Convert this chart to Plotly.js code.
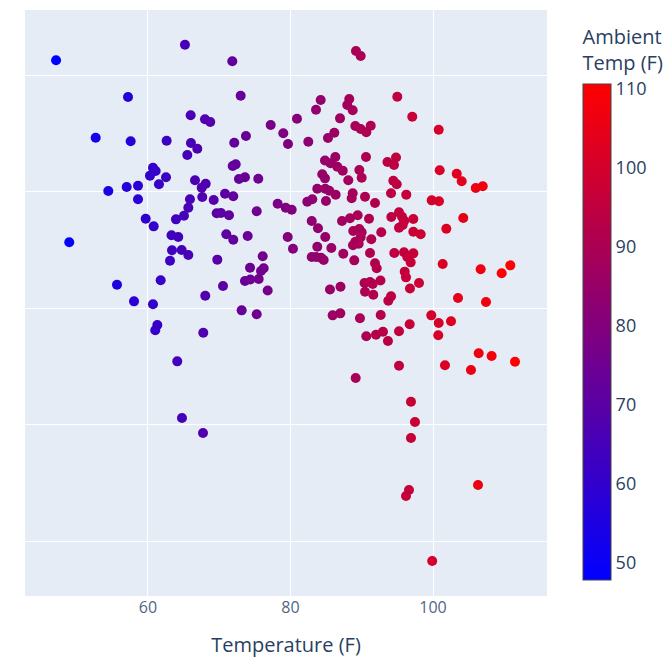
<!DOCTYPE html>
<html>
<head>
<meta charset="utf-8">
<script src="https://cdn.plot.ly/plotly-3.0.1.min.js"></script>
<style>html,body{margin:0;padding:0;background:#fff;}#chart{width:666px;height:658px;}</style>
</head>
<body>
<div id="chart"></div>
<script>
// Temperature (F) – x values (also drive the colour scale)
const temperature = [
47.1,57.2,52.66,57.57,62.62,60.70,61.08,60.28,62.53,61.54,58.60,57.01,54.43,58.60,59.68,60.80,63.93,63.30,63.37,63.09,
61.78,55.65,48.95,58.04,60.70,61.31,61.02,64.11,64.77,67.72,67.76,68.04,65.19,71.83,73.01,65.99,68.00,68.74,66.03,66.92,
65.52,72.11,73.75,77.22,78.99,79.65,80.91,71.89,72.31,66.60,68.10,67.54,72.77,73.61,75.48,65.89,67.62,69.22,70.81,71.97,
65.66,65.05,69.64,70.25,71.37,75.26,78.20,79.33,80.17,64.25,70.99,71.97,73.99,79.61,80.35,64.73,65.66,69.73,76.10,74.32,
76.24,75.86,75.54,73.61,74.36,70.53,76.80,73.15,75.26,
89.19,89.85,84.24,83.58,88.25,87.97,88.73,86.95,94.99,97.09,86.15,85.26,89.10,89.85,90.64,91.26,82.50,84.84,86.29,85.61,
86.57,87.33,90.60,93.61,94.81,94.53,89.66,84.46,84.84,89.99,88.11,83.76,84.88,85.45,86.34,88.73,88.59,90.46,91.86,94.43,
94.91,94.11,96.25,83.06,82.36,84.98,82.98,83.86,84.88,87.23,88.35,89.43,91.02,88.81,89.66,89.99,89.85,89.10,89.57,88.77,
91.34,92.74,94.15,95.23,95.65,95.97,95.75,95.23,97.24,97.24,98.27,83.76,85.73,82.98,83.58,84.28,84.66,87.41,88.95,91.16,
91.86,92.10,94.57,95.93,97.24,96.39,96.87,96.03,96.21,85.54,87.02,90.39,91.16,91.54,92.63,90.46,91.62,94.11,93.73,96.77,
98.04,85.92,86.99,89.75,92.66,90.64,92.00,92.98,93.68,95.23,96.73,95.23,89.15,96.91,
100.80,100.94,103.33,104.03,106.00,106.98,99.82,100.84,104.25,101.87,101.36,106.69,109.64,110.85,103.51,107.44,99.76,100.80,102.53,100.74,
106.41,108.23,111.51,101.68,105.33,97.47,96.91,96.63,96.21,106.32,99.89
];
// y values (unlabelled axis)
const response = [
51.26,48.11,44.62,44.31,44.36,42.04,41.76,41.36,41.22,40.62,40.50,40.39,40.04,39.33,37.66,37.01,37.61,36.25,34.96,34.06,
32.38,32.00,35.64,30.57,30.32,28.54,28.09,25.42,20.56,19.27,27.88,31.05,52.60,51.18,48.22,46.54,46.20,45.97,44.16,43.67,
43.13,44.19,44.76,45.71,45.00,44.08,46.25,42.19,42.33,40.96,40.67,40.33,41.07,41.22,41.10,39.33,39.53,39.27,39.81,39.59,
38.61,37.92,38.13,38.15,37.96,38.30,38.95,38.61,38.44,36.09,36.33,35.86,36.18,36.09,35.09,34.98,34.55,34.15,34.44,33.46,
33.41,33.18,32.49,32.32,32.45,31.89,31.50,29.80,29.46,
52.06,51.63,47.85,47.02,47.94,47.42,46.97,46.28,48.14,46.42,45.05,44.59,45.62,45.36,45.08,45.65,44.27,42.66,42.96,42.42,
42.13,41.79,42.96,42.53,42.92,42.27,41.85,41.48,41.13,41.18,40.96,40.24,40.24,40.07,39.72,39.85,39.42,39.55,39.01,40.93,
40.62,39.85,39.73,39.33,39.12,39.18,37.47,36.84,36.09,37.47,37.70,37.96,37.66,36.61,36.78,36.50,36.07,35.69,35.52,35.38,
35.90,36.50,37.81,38.21,37.84,37.49,37.12,36.89,37.64,36.55,36.33,35.26,35.15,34.38,34.38,34.32,34.12,34.66,34.09,34.72,
33.84,33.41,34.72,34.78,34.69,34.38,33.92,33.12,32.63,31.59,31.83,32.15,32.23,32.06,32.36,31.40,31.14,31.00,30.63,31.67,
32.15,29.37,29.54,29.12,29.40,27.57,27.71,27.96,27.17,28.00,28.60,25.05,23.99,21.96,
45.30,41.82,41.53,40.88,40.30,40.45,39.24,39.16,37.73,36.81,33.78,33.32,32.98,33.66,30.86,30.51,29.37,28.71,28.86,27.66,
26.11,25.88,25.39,25.08,24.68,20.21,18.84,14.38,13.86,14.81,8.28
];
const xTickVals = [60, 80, 100];
const cbTickVals = [50, 60, 70, 80, 90, 100, 110];

const trace = {
  type: 'scatter',
  mode: 'markers',
  x: temperature,
  y: response,
  marker: {
    size: 10,
    color: temperature,
    colorscale: 'Bluered',
    cmin: 47.8,
    cmax: 110.6,
    line: {width: 0},
    showscale: true,
    colorbar: {
      title: {text: 'Ambient<br>Temp (F)', side: 'top', font: {size: 20, color: '#2a3f5f'}},
      tickvals: cbTickVals,
      tickfont: {size: 18, color: '#2a3f5f'},
      outlinewidth: 1,
      outlinecolor: '#444',
      thickness: 28,
      xref: 'container',
      x: 0.8604,
      xanchor: 'left',
      xpad: 10,
      ypad: 16
    }
  },
  hoverinfo: 'x+y'
};

const layout = {
  width: 666,
  height: 658,
  margin: {l: 25, r: 119, t: 10, b: 62},
  paper_bgcolor: '#ffffff',
  plot_bgcolor: '#e5ecf6',
  font: {family: '"Open Sans", verdana, arial, sans-serif', size: 16, color: '#2a3f5f'},
  showlegend: false,
  xaxis: {
    range: [42.74, 116.0],
    tickvals: xTickVals,
    gridcolor: '#ffffff',
    gridwidth: 1,
    zeroline: false,
    showline: false,
    ticks: '',
    tickfont: {size: 16, color: '#506784'},
    title: {text: 'Temperature (F)', font: {size: 20, color: '#2a3f5f'}, standoff: 20}
  },
  yaxis: {
    range: [5.28, 55.58],
    dtick: 10,
    tick0: 0,
    showticklabels: false,
    gridcolor: '#ffffff',
    gridwidth: 1,
    zeroline: false,
    showline: false,
    ticks: ''
  }
};

Plotly.newPlot('chart', [trace], layout, {displayModeBar: false, responsive: false});
</script>
</body>
</html>
